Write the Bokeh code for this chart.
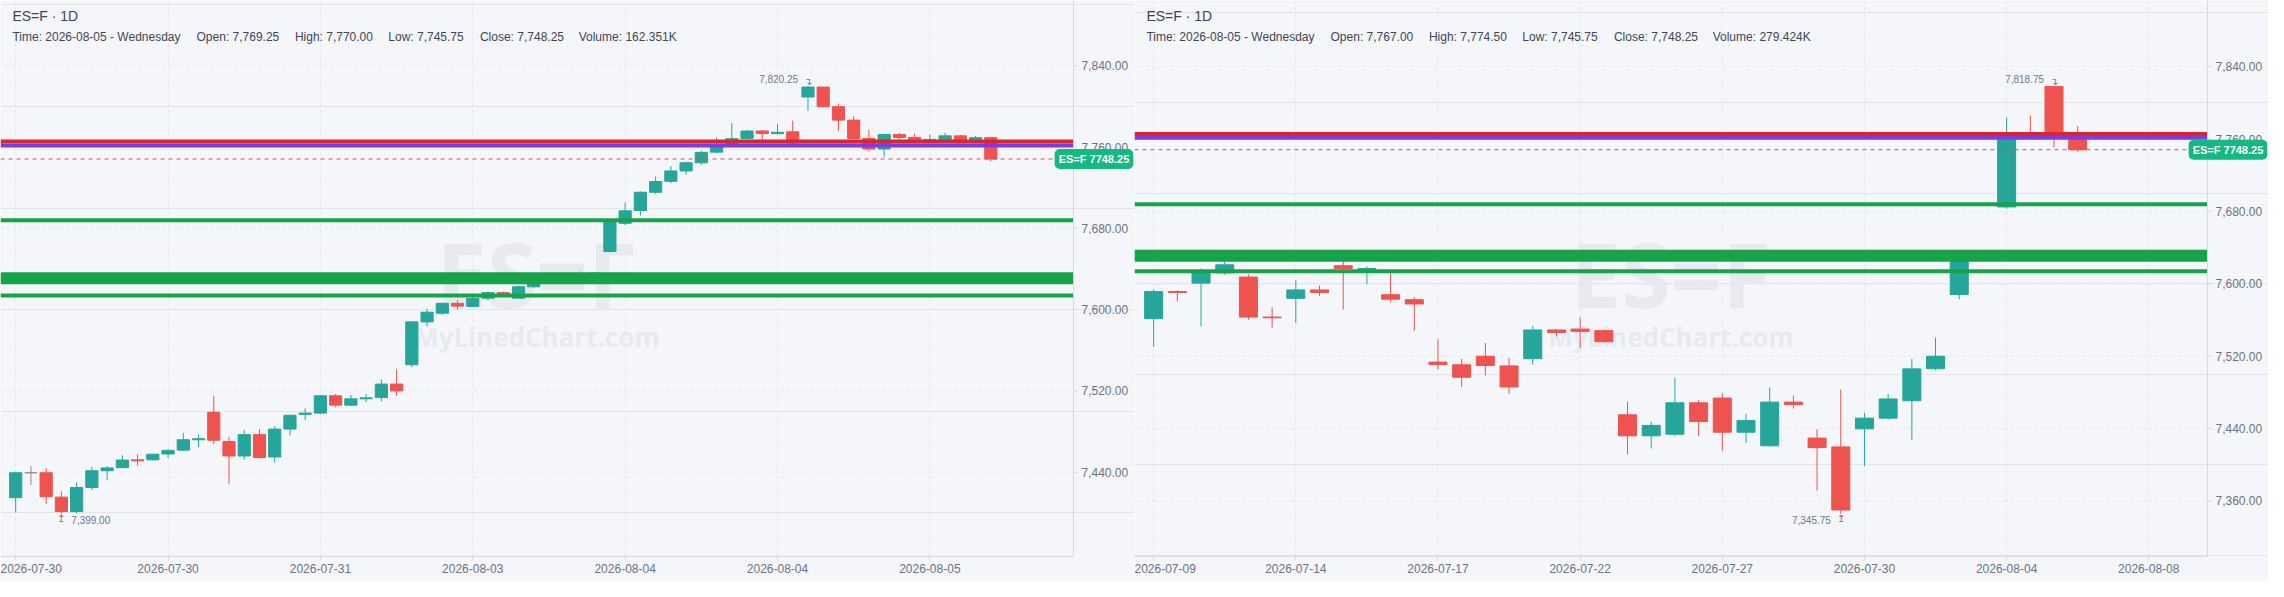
import numpy as np
import pandas as pd
from bokeh.plotting import figure
from bokeh.models import Range1d, FixedTicker, Label, ColumnDataSource
from bokeh.core.properties import value
from bokeh.layouts import row
from bokeh.embed import file_html
from bokeh.resources import INLINE

# ---------------- data ----------------
symbol = "ES=F"
timeframe = "1D"

# left chart (65 bars)
left_open = [7415.0, 7439.5, 7439.5, 7415.5, 7401.25, 7425.0, 7441.5, 7444.5, 7452.25, 7452.25,
             7458.0, 7461.75, 7472.0, 7499.0, 7470.25, 7456.0, 7477.0, 7455.0, 7482.5, 7497.0,
             7498.25, 7515.25, 7506.0, 7512.25, 7513.5, 7526.75, 7545.75, 7588.0, 7596.5, 7606.25,
             7603.25, 7611.25, 7616.75, 7611.25, 7622.5, 7630.0, 7632.0, 7633.5, 7635.0, 7657.25,
             7685.0, 7697.5, 7715.5, 7726.25, 7736.5, 7744.5, 7755.0, 7762.0, 7768.5, 7775.75,
             7773.25, 7775.0, 7809.25, 7819.0, 7799.75, 7786.5, 7768.5, 7758.0, 7772.25, 7769.5,
             7766.75, 7766.75, 7771.0, 7765.0, 7769.25]
left_high = [7440.5, 7446.0, 7444.25, 7421.25, 7430.0, 7445.25, 7446.0, 7456.75, 7457.75, 7458.0,
             7462.5, 7478.75, 7477.0, 7515.25, 7475.0, 7481.75, 7482.5, 7485.25, 7496.5, 7502.75,
             7516.0, 7517.0, 7516.0, 7517.0, 7531.5, 7541.0, 7588.5, 7600.75, 7606.75, 7609.5,
             7613.0, 7617.75, 7617.75, 7623.75, 7632.0, 7634.0, 7635.5, 7637.5, 7637.0, 7686.5,
             7705.5, 7716.5, 7731.0, 7741.25, 7745.75, 7756.5, 7769.5, 7783.5, 7777.0, 7776.75,
             7782.5, 7786.0, 7820.25, 7819.25, 7802.5, 7790.5, 7777.25, 7773.0, 7774.0, 7773.25,
             7772.25, 7774.0, 7772.0, 7771.0, 7770.0]
left_low = [7400.5, 7427.5, 7409.0, 7399.0, 7399.5, 7422.5, 7432.0, 7444.25, 7446.5, 7451.5,
            7454.25, 7461.5, 7464.75, 7467.5, 7428.25, 7452.25, 7453.5, 7449.5, 7476.25, 7491.5,
            7497.25, 7504.0, 7505.0, 7508.75, 7509.75, 7515.25, 7543.25, 7583.25, 7595.0, 7599.75,
            7602.75, 7609.0, 7615.0, 7611.25, 7621.0, 7627.0, 7629.0, 7631.0, 7632.5, 7656.0,
            7683.25, 7692.75, 7714.0, 7724.5, 7732.75, 7742.5, 7754.0, 7760.0, 7767.0, 7767.0,
            7772.5, 7762.0, 7795.5, 7798.75, 7776.0, 7766.0, 7755.5, 7750.0, 7767.5, 7765.0,
            7764.0, 7764.5, 7764.0, 7763.5, 7745.75]
left_close = [7439.5, 7439.5, 7416.0, 7401.25, 7425.0, 7441.5, 7444.25, 7452.0, 7451.25, 7457.75,
              7461.5, 7472.0, 7473.0, 7471.5, 7456.0, 7477.0, 7454.5, 7482.5, 7496.0, 7498.25,
              7515.25, 7506.0, 7512.25, 7513.25, 7526.75, 7520.0, 7588.0, 7597.5, 7606.25, 7603.5,
              7611.0, 7616.75, 7615.5, 7622.5, 7630.0, 7632.0, 7633.5, 7635.0, 7636.0, 7686.0,
              7697.25, 7715.5, 7726.0, 7736.5, 7744.5, 7754.75, 7762.0, 7768.25, 7775.75, 7773.25,
              7774.5, 7764.0, 7819.0, 7799.75, 7786.5, 7768.5, 7758.0, 7772.25, 7769.5, 7766.75,
              7767.5, 7771.0, 7766.0, 7769.25, 7748.25]
left_tick_pos = [0, 10, 20, 30, 40, 50, 60]
left_tick_labels = ["2026-07-30", "2026-07-30", "2026-07-31", "2026-08-03",
                    "2026-08-04", "2026-08-04", "2026-08-05"]
left_y_ticks = [7440, 7520, 7600, 7680, 7760, 7840]
left_info = ["Time: 2026-08-05 - Wednesday", "Open: 7,769.25", "High: 7,770.00",
             "Low: 7,745.75", "Close: 7,748.25", "Volume: 162.351K"]

# right chart (40 slots, slot 35 empty)
right_open = [7561.5, 7591.5, 7600.75, 7612.0, 7607.5, 7563.25, 7584.0, 7593.25, 7620.0, 7615.5,
              7588.0, 7582.5, 7513.5, 7510.5, 7520.0, 7509.25, 7517.25, 7549.0, 7550.0, 7548.25,
              7455.25, 7432.0, 7433.75, 7468.5, 7473.75, 7436.0, 7421.0, 7469.25, 7429.5, 7419.75,
              7439.75, 7451.5, 7470.75, 7506.25, 7588.25, None, 7685.0, 7766.0, 7818.25, 7767.0]
right_high = [7594.0, 7593.0, 7617.0, 7625.25, 7610.5, 7574.0, 7604.0, 7598.0, 7635.0, 7619.5,
              7612.0, 7585.5, 7538.5, 7517.0, 7534.5, 7518.0, 7553.5, 7550.0, 7563.0, 7549.75,
              7469.5, 7447.75, 7496.5, 7471.5, 7479.0, 7456.5, 7485.5, 7476.75, 7439.5, 7483.0,
              7457.5, 7478.0, 7517.0, 7540.5, 7632.0, None, 7784.0, 7786.25, 7818.75, 7774.5]
right_low = [7530.25, 7580.5, 7552.75, 7610.0, 7560.25, 7551.5, 7556.5, 7586.75, 7571.5, 7599.5,
             7579.25, 7548.25, 7505.5, 7486.0, 7498.75, 7478.25, 7510.75, 7541.75, 7529.0, 7535.0,
             7411.75, 7418.0, 7432.0, 7432.0, 7415.5, 7424.25, 7419.75, 7462.0, 7371.5, 7345.75,
             7398.5, 7450.0, 7427.25, 7504.5, 7583.0, None, 7683.0, 7760.0, 7751.0, 7745.75]
right_close = [7591.5, 7590.5, 7612.0, 7621.0, 7563.25, 7562.5, 7593.25, 7590.5, 7617.0, 7617.0,
               7583.0, 7577.75, 7510.75, 7496.75, 7509.75, 7486.0, 7549.0, 7546.25, 7547.5, 7536.0,
               7432.0, 7443.5, 7468.5, 7447.75, 7436.0, 7449.0, 7469.25, 7466.5, 7419.0, 7350.0,
               7451.5, 7472.75, 7506.0, 7520.0, 7628.0, None, 7764.0, 7764.0, 7762.0, 7748.25]
right_tick_pos = [0, 6, 12, 18, 24, 30, 36, 42]
right_tick_labels = ["2026-07-09", "2026-07-14", "2026-07-17", "2026-07-22",
                     "2026-07-27", "2026-07-30", "2026-08-04", "2026-08-08"]
right_y_ticks = [7360, 7440, 7520, 7600, 7680, 7760, 7840]
right_info = ["Time: 2026-08-05 - Wednesday", "Open: 7,767.00", "High: 7,774.50",
              "Low: 7,745.75", "Close: 7,748.25", "Volume: 279.424K"]

# horizontal levels
level_purple = 7761.5
level_red = 7765.5
levels_green = [7688.0, 7631.0, 7614.0]
levels_green_width = [4, 12, 4]
last_price = 7748.25

# ---------------- style ----------------
BG = "#f5f6fa"
UP = "#26a69a"
DOWN = "#ef5350"
FLAT = "#8f8f8f"
AXIS_TXT = "#6b7384"
AXIS_LINE = "#d6d9e0"
GRID = "#e3e6ee"
FONT = "Liberation Sans"

W, H = 1134, 581          # figure size
FW, FH = 1073, 556        # price area (left of the price scale) / frame height
SX, SY = FW / 1081.0, FH / 571.0


def add_candles(p, o, h, l, c, width):
    df = pd.DataFrame(dict(x=np.arange(len(o)), o=o, h=h, l=l, c=c)).dropna()
    df["top"] = df[["o", "c"]].max(axis=1)
    df["bottom"] = df[["o", "c"]].min(axis=1)
    df["color"] = np.where(df.c > df.o, UP, np.where(df.c < df.o, DOWN, FLAT))
    src = ColumnDataSource(df)
    p.segment(x0="x", y0="h", x1="x", y1="l", line_color="color", line_width=1, source=src)
    p.vbar(x="x", width=width, top="top", bottom="bottom", fill_color="color",
           line_color="color", line_width=1, source=src)
    return df


def txt(p, x, ytop, text, size, color, bold=False, font=FONT, align="left",
        baseline="middle", level="overlay"):
    p.add_layout(Label(x=x * SX, y=FH - ytop * SY, x_units="screen", y_units="screen",
                       text=text, text_font=font, text_font_size=f"{size}px",
                       text_color=color, text_font_style="bold" if bold else "normal",
                       text_align=align, text_baseline=baseline, level=level))


def make_panel(o, h, l, c, first_px, slot_px, yr, tick_pos, tick_labels, yticks, info,
               width, hi_idx, lo_idx, lo_side):
    ppu = slot_px * SX                      # pixels per bar slot
    x0 = -first_px / slot_px                # slot value at the left edge
    x_axis = x0 + FW / ppu                  # price-scale position
    x1 = x0 + W / ppu                       # right edge of the figure
    y0, y1 = yr

    p = figure(width=W, height=H, x_range=Range1d(x0, x1), y_range=Range1d(y0, y1),
               y_axis_location=None, toolbar_location=None, output_backend="svg",
               min_border_left=0, min_border_top=0, min_border_right=0,
               min_border_bottom=H - FH)
    p.background_fill_color = BG
    p.border_fill_color = BG
    p.outline_line_color = None

    # time axis
    p.xaxis.ticker = FixedTicker(ticks=tick_pos)
    p.xaxis.major_label_overrides = {k: v for k, v in zip(tick_pos, tick_labels)}
    p.xaxis.bounds = (x0, x_axis)
    p.xaxis.axis_line_color = AXIS_LINE
    p.xaxis.major_tick_line_color = AXIS_LINE
    p.xaxis.minor_tick_line_color = None
    p.xaxis.major_tick_in = 0
    p.xaxis.major_tick_out = 4
    p.xaxis.major_label_standoff = 3
    p.xaxis.major_label_text_font = FONT
    p.xaxis.major_label_text_font_size = "12px"
    p.xaxis.major_label_text_color = AXIS_TXT
    p.xgrid.grid_line_color = GRID
    p.xgrid.grid_line_dash = "3 3"

    # watermark
    txt(p, 540.5, 280, symbol, 90, "#e8eaf0", bold=True, font="Open Sans",
        align="center", level="underlay")
    txt(p, 540.5, 346, "MyLinedChart.com", 26, "#e8eaf0", bold=True, font="Open Sans",
        align="center", level="underlay")

    # horizontal grid, limited to the price area
    yt = np.array(yticks, dtype=float)
    p.segment(x0=x0, y0=yt, x1=x_axis, y1=yt, line_color=GRID, line_width=1, line_dash="3 3")

    df = add_candles(p, o, h, l, c, width)

    # levels
    p.segment(x0=x0, y0=level_purple, x1=x_axis, y1=level_purple, line_color="#7c3aed", line_width=4)
    p.segment(x0=x0, y0=level_red, x1=x_axis, y1=level_red, line_color="#dc2626", line_width=4)
    for lv, lw in zip(levels_green, levels_green_width):
        p.segment(x0=x0, y0=lv, x1=x_axis, y1=lv, line_color="#16a34a", line_width=lw)
    p.segment(x0=x0, y0=last_price, x1=x_axis, y1=last_price, line_color="#ef4461",
              line_width=1, line_dash="4 4")

    # price scale
    p.segment(x0=x_axis, y0=y0, x1=x_axis, y1=y1, line_color=AXIS_LINE, line_width=1)
    p.segment(x0=x_axis, y0=yt, x1=x_axis + 4 / ppu, y1=yt, line_color=AXIS_LINE, line_width=1)
    p.text(x=x_axis, y=yt, text=[f"{v:,.2f}" for v in yt], x_offset=8,
           text_font=value(FONT), text_font_size="12px", text_color=AXIS_TXT,
           text_align="left", text_baseline="middle")

    # last price tag
    p.add_layout(Label(x=1062 * SX, y=last_price, x_units="screen", y_units="data",
                       text=f"{symbol} {last_price:.2f}", text_font=FONT,
                       text_font_size="11px", text_font_style="bold", text_color="white",
                       text_align="left", text_baseline="middle",
                       background_fill_color="#12b981", border_radius=5, padding=4))

    # header
    txt(p, 12, 16, f"{symbol} · {timeframe}", 14, "#3d4452")
    xs = [12, 197.5, 296.6, 390.7, 483, 582.5]
    for xx, s in zip(xs, info):
        txt(p, xx, 37.3, s, 12, "#404756")

    # high / low markers
    hi_val = df.loc[df.x == hi_idx, "h"].iloc[0]
    lo_val = df.loc[df.x == lo_idx, "l"].iloc[0]
    lab = dict(text_font=FONT, text_font_size="10px", text_color="#707888",
               text_baseline="middle")
    p.add_layout(Label(x=hi_idx, y=hi_val, y_offset=7 * SY, x_offset=-10 * SX,
                       text=f"{hi_val:,.2f}", text_align="right", **lab))
    p.add_layout(Label(x=hi_idx, y=hi_val, y_offset=4.5 * SY, text="↴",
                       text_align="center", **lab))
    p.add_layout(Label(x=lo_idx, y=lo_val, y_offset=-6 * SY, x_offset=lo_side * 10 * SX,
                       text=f"{lo_val:,.2f}", text_align="left" if lo_side > 0 else "right", **lab))
    p.add_layout(Label(x=lo_idx, y=lo_val, y_offset=-5 * SY, text="↥",
                       text_align="center", **lab))
    return p


left = make_panel(left_open, left_high, left_low, left_close, 15.3, 15.35,
                  (7357.1, 7904.2), left_tick_pos, left_tick_labels, left_y_ticks, left_info,
                  0.8, hi_idx=52, lo_idx=3, lo_side=1)
right = make_panel(right_open, right_high, right_low, right_close, 19.3, 23.87,
                   (7298.6, 7913.2), right_tick_pos, right_tick_labels, right_y_ticks, right_info,
                   0.76, hi_idx=38, lo_idx=29, lo_side=-1)

layout = row(left, right, spacing=0)
open("out.html", "w").write(file_html(layout, INLINE))
